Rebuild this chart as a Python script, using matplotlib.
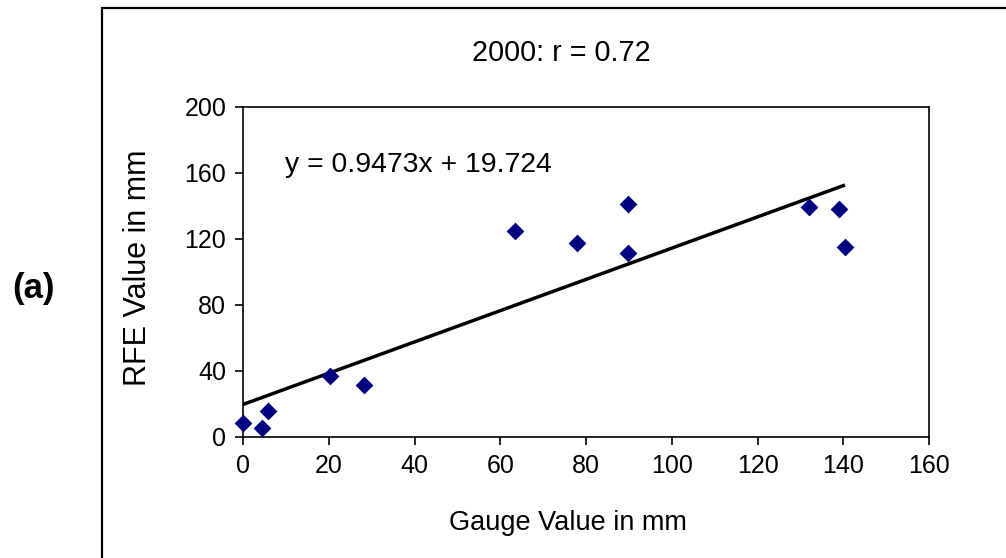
import matplotlib
matplotlib.use("Agg")
import matplotlib.pyplot as plt
from matplotlib.patches import Rectangle
import numpy as np

plt.rcParams['font.family'] = ['Liberation Sans', 'DejaVu Sans']

gauge = [0, 4.4, 5.8, 20.3, 28.2, 63.4, 77.9, 89.8, 89.8, 132.0, 139.0, 140.4]
rfe = [8.5, 5.5, 15.8, 37.0, 31.5, 124.8, 117.6, 141.2, 111.5, 139.4, 138.2, 115.2]
slope = 0.9473
intercept = 19.724
title = "2000: r = 0.72"
equation = "y = 0.9473x + 19.724"
xticks = [0, 20, 40, 60, 80, 100, 120, 140, 160]
yticks = [0, 40, 80, 120, 160, 200]

fig = plt.figure(figsize=(10.06, 5.58), dpi=100)
ax = fig.add_axes([243/1006, 1-437/558, (929-243)/1006, (437-107)/558])

ax.scatter(gauge, rfe, marker='D', s=82, color='#000080', zorder=3, linewidths=0, clip_on=False)
xl = np.array([min(gauge), max(gauge)])
ax.plot(xl, slope*xl + intercept, color='black', lw=2.5, zorder=2, solid_capstyle='butt')

ax.set_xlim(0, 160)
ax.set_ylim(0, 200)
ax.set_xticks(xticks)
ax.set_yticks(yticks)
ax.tick_params(labelsize=18, length=6, width=1.2, direction='out', pad=6)
for s in ax.spines.values():
    s.set_linewidth(1.2)

xlab = ax.set_xlabel("Gauge Value in mm", fontsize=19.5)
xlab.set_va('center')
ax.xaxis.set_label_coords((567.5-243)/686, (437-523)/330)
ylab = ax.set_ylabel("RFE Value in mm", fontsize=22)
ylab.set_va('center')
ax.yaxis.set_label_coords((138-243)/686, (437-268)/330)

ax.text(9.8, 165, equation, fontsize=20.4, va='center', ha='left')

fig.text(561.5/1006, 1-53/558, title, fontsize=20.7, ha='center', va='center')
fig.text(33/1006, 1-289/558, "(a)", fontsize=25, fontweight='bold', ha='center', va='center')

rect = Rectangle((102/1006, -0.1), 1.0, 1-8/558+0.1, transform=fig.transFigure,
                 fill=False, edgecolor='black', lw=1.6, clip_on=False)
fig.patches.append(rect)

fig.savefig("out.png", dpi=100)
